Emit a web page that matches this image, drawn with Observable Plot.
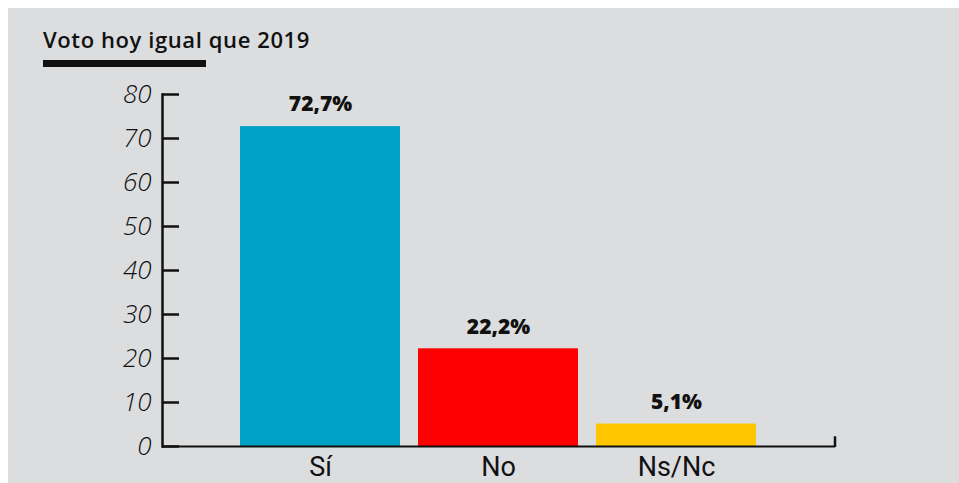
<!DOCTYPE html>
<html>
<head>
<meta charset="utf-8">
<script src="https://cdn.jsdelivr.net/npm/d3@7"></script>
<script src="https://cdn.jsdelivr.net/npm/@observablehq/plot@0.6"></script>
<style>
  html, body { margin: 0; padding: 0; background: #ffffff; }
  #panel { position: absolute; left: 8px; top: 8px; width: 951px; height: 475px; background: #dcdddf; overflow: hidden; }
  #title { position: absolute; left: 35px; top: 16px; font-family: "Open Sans", sans-serif; font-weight: 600; font-size: 22px; letter-spacing: 0.6px; color: #111; white-space: nowrap; }
  #titlebar { position: absolute; left: 35px; top: 52px; width: 163px; height: 7px; background: #111; }
  #chart { position: absolute; left: 0; top: 67px; }
</style>
</head>
<body>
<div id="panel">
  <div id="title">Voto hoy igual que 2019</div>
  <div id="titlebar"></div>
  <div id="chart"></div>
</div>
<script>
const categories = ["Sí", "No", "Ns/Nc"];
const values = [72.7, 22.2, 5.1];
const valueLabels = ["72,7%", "22,2%", "5,1%"];
const colors = ["#00a1c7", "#ff0000", "#ffc600"];
const yTicks = [0, 10, 20, 30, 40, 50, 60, 70, 80];

const data = categories.map((c, i) => ({cat: c, value: values[i], label: valueLabels[i], color: colors[i]}));

const chart = Plot.plot({
  width: 951,
  height: 408,
  marginLeft: 154,
  marginRight: 124,
  marginTop: 19,
  marginBottom: 37,
  style: {background: "transparent", overflow: "visible"},
  x: {domain: categories, paddingInner: 0.1, paddingOuter: 0.43, label: null},
  y: {domain: [0, 80], label: null},
  marks: [
    Plot.barY(data, {x: "cat", y: "value", fill: "color"}),
    Plot.ruleY([0], {stroke: "#111", strokeWidth: 2}),
    Plot.frame({anchor: "left", stroke: "#111", strokeWidth: 2.5}),
    Plot.axisY(yTicks, {tickSize: -17, tickPadding: 28, strokeWidth: 2.5, stroke: "#111", label: null,
      fontSize: 26, fontStyle: "italic", fontWeight: 300, fontFamily: "Open Sans, sans-serif", fill: "#111", textStroke: "none"}),
    Plot.axisX({tickSize: 0, tickPadding: 10, label: null, fontSize: 27, fontFamily: "Roboto, sans-serif", fill: "#111"}),
    Plot.text(data, {x: "cat", y: "value", text: "label", dy: -22, lineAnchor: "middle",
      fontSize: 21, fontWeight: 800, fontFamily: "Open Sans, sans-serif", fill: "#111"})
  ]
});

// closing tick at the right end of the x axis, from the scales
const xs = chart.scale("x"), ys = chart.scale("y");
const xEnd = xs.range[1];
const y0 = ys.apply(0);
d3.select(chart).append("line")
  .attr("x1", xEnd).attr("x2", xEnd)
  .attr("y1", y0 + 1).attr("y2", ys.apply(2.2))
  .attr("stroke", "#111").attr("stroke-width", 2.5);

document.getElementById("chart").appendChild(chart);
</script>
</body>
</html>
